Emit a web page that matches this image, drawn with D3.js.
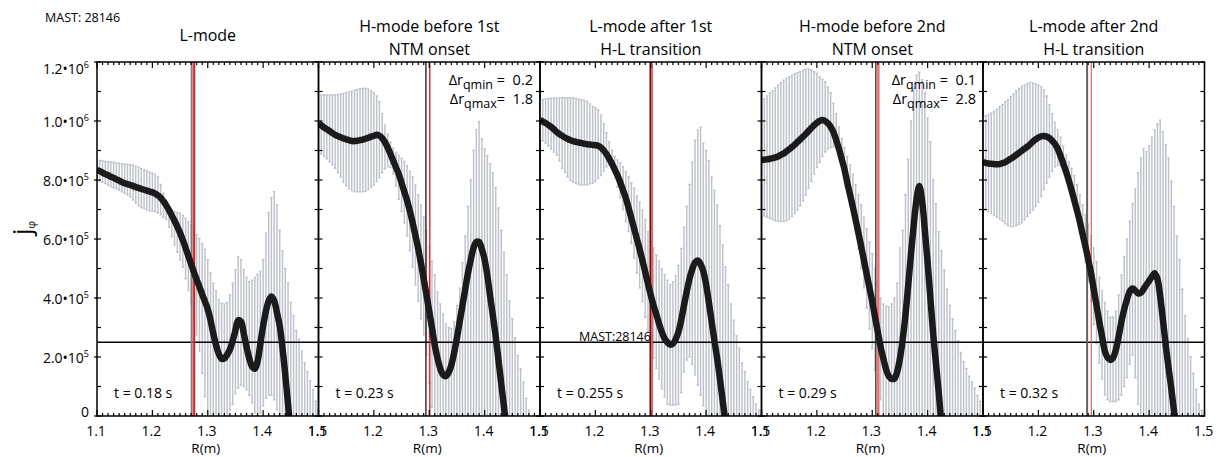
<!DOCTYPE html>
<html>
<head>
<meta charset="utf-8">
<script src="https://cdn.jsdelivr.net/npm/d3@7"></script>
<style>
  body { margin: 0; background: #fff; }
  svg { display: block; font-family: "Open Sans", sans-serif; }
</style>
</head>
<body>
<div id="chart"></div>
<script>
// Major radius grid of the reconstruction (m)
const rGrid = [
  1.100,1.105,1.110,1.115,1.120,1.125,1.130,1.135,1.140,1.145,
  1.150,1.155,1.160,1.165,1.170,1.175,1.180,1.185,1.190,1.195,
  1.200,1.205,1.210,1.215,1.220,1.225,1.230,1.235,1.240,1.245,
  1.250,1.255,1.260,1.265,1.270,1.275,1.280,1.285,1.290,1.295,
  1.300,1.305,1.310,1.315,1.320,1.325,1.330,1.335,1.340,1.345,
  1.350,1.355,1.360,1.365,1.370,1.375,1.380,1.385,1.390,1.395,
  1.400,1.405,1.410,1.415,1.420,1.425,1.430,1.435,1.440,1.445,
  1.450,1.455,1.460,1.465,1.470,1.475,1.480,1.485,1.490,1.495,
  1.500];

// j_phi in units of 1e5 (upper / lower error bar ends, mean profile); 0 = at or below axis
const p1Hi = [
  8.68,8.66,8.65,8.63,8.62,8.61,8.60,8.58,8.57,8.55,
  8.54,8.53,8.52,8.50,8.47,8.43,8.39,8.35,8.31,8.27,
  8.23,8.19,8.10,7.85,7.55,7.28,7.08,6.98,6.93,6.90,
  6.87,6.80,6.70,6.58,6.48,6.35,6.15,6.02,5.85,5.65,
  5.30,4.85,4.50,4.25,3.95,3.82,3.80,3.85,4.10,4.50,
  4.95,5.40,5.30,4.95,4.70,4.55,4.60,4.70,4.80,4.90,
  5.30,6.20,6.90,7.40,7.60,7.15,6.30,5.60,5.00,4.50,
  3.85,3.40,2.90,2.60,2.20,1.80,1.50,1.20,0.90,0.50,
  0.25];
const p1Lo = [
  8.00,7.96,7.92,7.88,7.83,7.78,7.74,7.70,7.66,7.60,
  7.55,7.50,7.42,7.32,7.22,7.13,7.07,7.03,6.99,6.96,
  6.94,6.92,6.88,6.82,6.74,6.66,6.40,6.08,5.80,5.55,
  5.30,5.05,4.65,4.25,3.80,3.35,2.75,2.20,1.45,0.65,
  0.10,0,0,0,0,0,0,0,0.20,0.40,
  0.75,0.95,1.05,1.00,0.90,0.70,0.45,0.10,0,0.10,
  0.35,0.60,0.70,0.70,0.55,0.20,0,0,0,0,
  0,0,0,0,0,0,0,0,0,0,
  0];
const p1Mean = [
  8.34,8.30,8.25,8.20,8.16,8.11,8.07,8.02,7.98,7.93,
  7.89,7.86,7.83,7.80,7.76,7.73,7.70,7.67,7.64,7.61,
  7.58,7.54,7.48,7.40,7.28,7.14,6.98,6.80,6.62,6.42,
  6.20,5.96,5.70,5.42,5.15,4.88,4.62,4.38,4.12,3.88,
  3.62,3.25,2.80,2.40,2.10,1.94,1.95,2.08,2.25,2.55,
  2.90,3.25,3.20,2.80,2.35,1.95,1.68,1.60,1.85,2.45,
  3.05,3.55,3.90,4.05,3.90,3.50,3.05,2.30,1.40,0.40,
  -0.60,null,null,null,null,null,null,null,null,null,
  null];

const p2Hi = [
  10.88,10.88,10.88,10.88,10.88,10.88,10.89,10.90,10.92,10.93,
  10.95,10.98,11.01,11.04,11.07,11.09,11.10,11.11,11.08,11.02,
  10.95,10.85,10.65,10.25,9.86,9.55,9.28,9.08,8.93,8.83,
  8.73,8.63,8.48,8.30,8.10,7.82,7.49,7.15,6.75,6.30,
  5.75,5.25,4.78,4.20,3.80,3.45,3.12,3.00,2.97,3.20,
  3.75,4.33,5.20,6.10,7.10,8.00,9.00,9.70,9.98,9.40,
  9.05,8.82,8.55,8.25,7.75,7.05,6.30,5.55,4.78,3.90,
  3.30,2.65,2.05,1.60,1.15,0.60,0.20,0,0,0,
  0];
const p2Lo = [
  8.96,8.88,8.80,8.72,8.62,8.52,8.40,8.25,8.10,7.92,
  7.80,7.70,7.64,7.60,7.60,7.60,7.60,7.62,7.68,7.75,
  7.83,7.95,8.08,8.25,8.38,8.45,8.42,8.20,7.80,7.35,
  6.93,6.55,6.10,5.60,5.05,4.45,3.90,3.30,2.75,2.07,
  1.10,0.30,0,0,0,0,0,0,0,0,
  0,0,0,0,0,0,0,0,0,0,
  0,0,0,0,0,0,0,0,0,0,
  0,0,0,0,0,0,0,0,0,0,
  0];
const p2Mean = [
  9.92,9.85,9.78,9.72,9.66,9.59,9.53,9.49,9.45,9.41,
  9.38,9.35,9.32,9.32,9.33,9.35,9.37,9.40,9.43,9.47,
  9.50,9.53,9.50,9.42,9.28,9.10,8.88,8.65,8.42,8.20,
  7.90,7.60,7.30,6.95,6.55,6.12,5.68,5.18,4.65,4.10,
  3.55,2.98,2.40,1.95,1.60,1.40,1.35,1.48,1.73,2.15,
  2.65,3.20,3.75,4.30,4.85,5.30,5.70,5.90,5.90,5.65,
  5.30,4.75,4.05,3.40,2.70,1.90,1.10,0.30,-0.50,null,
  null,null,null,null,null,null,null,null,null,null,
  null];

const p3Hi = [
  10.71,10.73,10.75,10.76,10.77,10.77,10.78,10.78,10.79,10.79,
  10.79,10.79,10.78,10.76,10.74,10.72,10.70,10.66,10.58,10.50,
  10.45,10.38,10.20,9.90,9.60,9.30,9.00,8.80,8.68,8.58,
  8.45,8.28,8.10,7.90,7.72,7.45,7.25,6.98,6.65,6.25,
  5.91,5.70,5.46,5.25,4.98,4.80,4.60,4.46,4.55,4.75,
  5.10,5.68,6.40,7.10,7.85,8.60,9.35,9.70,9.78,9.25,
  9.00,8.65,8.10,7.65,7.15,6.45,5.80,5.05,4.45,3.80,
  3.25,2.72,2.30,1.80,1.50,1.15,0.90,0.65,0.40,0.20,
  0.05];
const p3Lo = [
  9.41,9.33,9.25,9.15,9.05,8.95,8.85,8.65,8.40,8.25,
  8.10,7.98,7.92,7.88,7.85,7.83,7.83,7.84,7.86,7.89,
  7.95,8.05,8.15,8.30,8.45,8.51,8.40,8.22,7.75,7.40,
  7.00,6.59,6.25,5.85,5.35,4.85,4.35,3.88,3.35,2.85,
  2.40,1.95,1.62,1.25,0.92,0.65,0.40,0.37,0.37,0.37,
  0.40,0.80,1.50,1.90,2.00,1.75,1.40,1.05,0.70,0.35,
  0.05,0,0,0,0,0,0,0,0,0,
  0,0,0,0,0,0,0,0,0,0,
  0];
const p3Mean = [
  10.03,9.98,9.93,9.87,9.80,9.72,9.63,9.56,9.50,9.44,
  9.39,9.35,9.32,9.29,9.27,9.25,9.23,9.21,9.20,9.19,
  9.18,9.16,9.10,9.00,8.88,8.72,8.55,8.35,8.15,7.92,
  7.65,7.38,7.05,6.70,6.35,6.00,5.65,5.27,4.88,4.48,
  4.10,3.75,3.45,3.13,2.85,2.63,2.50,2.42,2.45,2.60,
  2.85,3.25,3.75,4.22,4.65,4.98,5.20,5.27,5.15,4.90,
  4.45,3.85,3.20,2.55,1.95,1.25,0.50,-0.25,null,null,
  null,null,null,null,null,null,null,null,null,null,
  null];

const p4Hi = [
  10.66,10.75,10.85,10.95,11.03,11.12,11.22,11.30,11.38,11.45,
  11.50,11.55,11.60,11.64,11.67,11.72,11.75,11.76,11.72,11.67,
  11.62,11.50,11.42,11.33,11.15,10.95,10.60,10.25,9.80,9.40,
  9.10,8.80,8.51,8.20,7.85,7.50,7.15,6.75,6.35,5.90,
  5.50,5.00,4.45,4.00,3.80,3.72,3.70,3.80,4.00,4.50,
  5.70,6.30,7.50,8.70,10.00,11.10,11.55,11.65,11.40,10.95,
  10.10,9.30,8.00,7.20,6.25,5.60,4.95,4.30,3.75,3.30,
  2.90,2.55,2.15,1.84,1.60,1.35,1.15,0.95,0.70,0.50,
  0.26];
const p4Lo = [
  6.81,6.78,6.74,6.70,6.66,6.62,6.60,6.59,6.59,6.62,
  6.68,6.76,6.86,6.98,7.12,7.30,7.49,7.72,7.95,8.20,
  8.42,8.60,8.80,8.95,9.05,9.10,9.13,9.10,9.00,8.80,
  8.40,7.95,7.45,6.90,6.30,5.65,5.00,4.35,3.65,2.95,
  2.29,1.55,1.05,0.55,0.15,0,0,0,0,0,
  0,0,0,0,0,0,0,0,0,0,
  0,0,0,0,0,0,0,0,0,0,
  0,0,0,0,0,0,0,0,0,0,
  0];
const p4Mean = [
  8.68,8.69,8.70,8.72,8.74,8.77,8.80,8.85,8.90,8.97,
  9.04,9.12,9.20,9.29,9.38,9.47,9.56,9.66,9.76,9.86,
  9.94,10.00,10.03,10.00,9.92,9.80,9.62,9.35,9.05,8.70,
  8.35,7.90,7.50,7.08,6.65,6.20,5.75,5.28,4.80,4.34,
  3.88,3.36,2.85,2.35,1.95,1.58,1.35,1.26,1.27,1.50,
  1.95,2.60,3.42,4.45,5.50,6.50,7.35,7.80,7.30,6.30,
  5.20,3.99,2.80,1.80,0.80,-0.30,null,null,null,null,
  null,null,null,null,null,null,null,null,null,null,
  null];

const p5Hi = [
  10.15,10.18,10.22,10.27,10.32,10.40,10.48,10.56,10.65,10.73,
  10.82,10.92,11.02,11.10,11.17,11.22,11.27,11.31,11.30,11.26,
  11.21,11.16,11.05,10.85,10.55,10.25,9.95,9.70,9.45,9.15,
  8.85,8.62,8.40,8.15,7.85,7.49,7.15,6.82,6.50,6.10,
  5.70,5.23,4.70,4.25,3.85,3.55,3.35,3.35,3.55,4.10,
  4.78,5.40,6.00,6.60,7.20,7.70,8.25,8.75,9.07,8.96,
  9.15,9.45,9.70,9.90,10.03,9.64,9.20,8.75,7.95,7.10,
  6.10,5.30,4.30,3.40,2.63,2.00,1.45,0.90,0.40,0.20,
  0.05];
const p5Lo = [
  7.04,6.98,6.92,6.86,6.80,6.74,6.68,6.60,6.52,6.46,
  6.42,6.42,6.45,6.50,6.55,6.65,6.76,6.88,6.98,7.10,
  7.25,7.45,7.68,7.90,8.10,8.30,8.45,8.51,8.48,8.42,
  8.30,8.05,7.72,7.30,6.80,6.30,5.75,5.20,4.55,3.90,
  3.10,2.45,1.80,1.25,0.71,0.55,0.49,0.49,0.49,0.55,
  0.71,1.00,1.30,1.75,2.07,1.30,0.40,0,0,0,
  0,0,0,0,0,0,0,0,0,0,
  0,0,0,0,0,0,0,0,0,0,
  0];
const p5Mean = [
  8.60,8.58,8.56,8.55,8.54,8.53,8.54,8.57,8.60,8.66,
  8.72,8.78,8.85,8.92,8.99,9.06,9.13,9.21,9.30,9.38,
  9.44,9.48,9.49,9.47,9.42,9.33,9.22,9.05,8.82,8.55,
  8.28,7.98,7.65,7.30,6.95,6.58,6.15,5.75,5.30,4.85,
  4.30,3.75,3.20,2.70,2.20,1.98,1.90,1.98,2.25,2.70,
  3.20,3.62,3.95,4.22,4.32,4.25,4.16,4.18,4.30,4.45,
  4.58,4.72,4.84,4.65,4.05,3.25,2.40,1.65,0.94,0.15,
  -0.60,null,null,null,null,null,null,null,null,null,
  null];

const panelTitles = [
  ["L-mode"],
  ["H-mode before 1st", "NTM onset"],
  ["L-mode after 1st", "H-L transition"],
  ["H-mode before 2nd", "NTM onset"],
  ["L-mode after 2nd", "H-L transition"]
];
const panelTimes = ["t = 0.18 s", "t = 0.23 s", "t = 0.255 s", "t = 0.29 s", "t = 0.32 s"];
// two vertical reference radii per panel (dark line, red line)
const darkLineR = [1.271, 1.294, 1.2995, 1.3065, 1.288];
const redLineR = [1.2755, 1.301, 1.3025, 1.311, 1.2955];
// delta r annotations: panel index, qmin, qmax
const drPanel = [1, 3];
const drQmin = ["0.2", "0.1"];
const drQmax = ["1.8", "2.8"];
const refLevel = 2.5; // 2.5e5 horizontal line
const shot = "MAST: 28146";

const yTickVals = [0, 2, 4, 6, 8, 10, 12];
const yTickMant = ["0", "2.0", "4.0", "6.0", "8.0", "1.0", "1.2"];
const yTickExp = [null, "5", "5", "5", "5", "6", "6"];
const xTickVals = [1.1, 1.2, 1.3, 1.4, 1.5];

const panels = [
  {hi: p1Hi, lo: p1Lo, mean: p1Mean},
  {hi: p2Hi, lo: p2Lo, mean: p2Mean},
  {hi: p3Hi, lo: p3Lo, mean: p3Mean},
  {hi: p4Hi, lo: p4Lo, mean: p4Mean},
  {hi: p5Hi, lo: p5Lo, mean: p5Mean}
];

// layout
const W = 1220, H = 457;
const plotLeft = 97, plotTop = 62, plotBottom = 416;
const panelW = 221.5;
const darkStyle = [
  {c: "#7d7d7d", w: 2}, {c: "#151515", w: 1.3}, {c: "#6a1010", w: 2},
  {c: "#1a1a1a", w: 1.2}, {c: "#5d6660", w: 2}];
const redStyle = [
  {c: "#e3191c", w: 2}, {c: "#d7191c", w: 1.3}, {c: "#ee5555", w: 1.6},
  {c: "#f07070", w: 2.5}, {c: "#e84040", w: 1}];

const svg = d3.select("#chart").append("svg")
    .attr("width", W)
    .attr("height", H);

const y = d3.scaleLinear().domain([0, 12]).range([plotBottom, plotTop]);
const defs = svg.append("defs");

panels.forEach((p, i) => {
  const x0 = plotLeft + i * panelW;
  const x = d3.scaleLinear().domain([1.1, 1.5]).range([x0, x0 + panelW]);
  const g = svg.append("g").attr("class", "panel");

  defs.append("clipPath").attr("id", "clip" + i)
    .append("rect")
      .attr("x", x0).attr("y", plotTop)
      .attr("width", panelW).attr("height", plotBottom - plotTop);

  const body = g.append("g").attr("clip-path", `url(#clip${i})`);

  // error bars
  const cap = 1.2;
  body.append("g")
      .attr("stroke", "#bdc1ca")
      .attr("stroke-width", 1.45)
      .attr("fill", "none")
    .selectAll("path")
    .data(rGrid.map((r, k) => ({r, hi: p.hi[k], lo: p.lo[k]})).filter(d => d.hi > 0))
    .join("path")
      .attr("d", d => {
        const xx = x(d.r), yh = y(d.hi), yl = y(Math.max(d.lo, 0));
        return `M${xx - cap},${yh}H${xx + cap}M${xx},${yh}V${yl}M${xx - cap},${yl}H${xx + cap}`;
      });

  // reference level
  body.append("line")
      .attr("x1", x0).attr("x2", x0 + panelW)
      .attr("y1", y(refLevel)).attr("y2", y(refLevel))
      .attr("stroke", "#000").attr("stroke-width", 1.3);

  // vertical markers
  body.append("line")
      .attr("x1", x(darkLineR[i])).attr("x2", x(darkLineR[i]))
      .attr("y1", plotTop).attr("y2", plotBottom)
      .attr("stroke", darkStyle[i].c).attr("stroke-width", darkStyle[i].w);
  body.append("line")
      .attr("x1", x(redLineR[i])).attr("x2", x(redLineR[i]))
      .attr("y1", plotTop).attr("y2", plotBottom)
      .attr("stroke", redStyle[i].c).attr("stroke-width", redStyle[i].w);

  // mean profile
  const line = d3.line()
      .defined(d => d !== null)
      .x((d, k) => x(rGrid[k]))
      .y(d => y(d))
      .curve(d3.curveCatmullRom.alpha(0.5));
  body.append("path")
      .datum(p.mean)
      .attr("fill", "none")
      .attr("stroke", "#1b1b1b")
      .attr("stroke-width", 6.5)
      .attr("stroke-linejoin", "round")
      .attr("d", line);

  // frame
  g.append("rect")
      .attr("x", x0).attr("y", plotTop)
      .attr("width", panelW).attr("height", plotBottom - plotTop)
      .attr("fill", "none").attr("stroke", "#000").attr("stroke-width", 1.5);

  // ticks
  const ticks = g.append("g").attr("stroke", "#000").attr("stroke-width", 1.2);
  d3.range(0, 13).forEach(v => {
    const yy = y(v);
    const major = v % 2 === 0;
    ticks.append("line").attr("x1", i === 0 && major ? x0 - 3 : x0).attr("x2", x0 + 4)
        .attr("y1", yy).attr("y2", yy);
    ticks.append("line").attr("x1", x0 + panelW - 4).attr("x2", x0 + panelW)
        .attr("y1", yy).attr("y2", yy);
  });
  x.ticks(40).forEach(v => {
    const xx = x(v);
    const major = Math.abs(v * 10 - Math.round(v * 10)) < 1e-6;
    const len = major ? 6 : 3;
    ticks.append("line").attr("x1", xx).attr("x2", xx).attr("y1", plotTop).attr("y2", plotTop + len);
    ticks.append("line").attr("x1", xx).attr("x2", xx).attr("y1", plotBottom).attr("y2", plotBottom - len);
  });

  // x tick labels (neighbouring panels' 1.5 and 1.1 overprint, as in the original)
  g.append("g").selectAll("text").data(xTickVals).join("text")
      .attr("x", d => x(d) - 1)
      .attr("y", 435.5)
      .attr("text-anchor", "middle")
      .style("font-size", "14px")
      .text(d => d.toFixed(1));

  g.append("text")
      .attr("x", x0 + panelW / 2 - 2)
      .attr("y", 453)
      .attr("text-anchor", "middle")
      .style("font-size", "13.5px")
      .text("R(m)");

  // title
  const title = panelTitles[i];
  g.append("g").selectAll("text").data(title).join("text")
      .attr("x", x0 + panelW / 2)
      .attr("y", (d, k) => title.length === 1 ? 40.5 : 32 + k * 23)
      .attr("text-anchor", "middle")
      .style("font-size", "16px")
      .text(d => d);

  // time
  g.append("text")
      .attr("x", x0 + 17)
      .attr("y", 398)
      .style("font-size", "14px")
      .text(panelTimes[i]);
});

// delta r annotations
drPanel.forEach((pi, k) => {
  const xr = plotLeft + (pi + 1) * panelW - 7;
  [["qmin", "\u00a0=\u00a0\u00a0" + drQmin[k], 85], ["qmax", "=\u00a0\u00a0" + drQmax[k], 104]].forEach(([sub, rest, yy]) => {
    const t = svg.append("text")
        .attr("x", xr).attr("y", yy)
        .attr("text-anchor", "end")
        .style("font-size", "14.5px");
    t.append("tspan").text("\u0394r");
    t.append("tspan").attr("dy", 3.5).style("font-size", "12.5px").text(sub);
    t.append("tspan").attr("dy", -3.5).text(rest);
  });
});

// y tick labels
yTickVals.forEach((v, k) => {
  let yy = y(v) + 5.5;
  if (k === 0) yy = y(v) + 0.5;
  if (k === yTickVals.length - 1) yy = y(v) + 12;
  const t = svg.append("text")
      .attr("x", 89).attr("y", yy)
      .attr("text-anchor", "end")
      .style("font-size", "14px");
  t.append("tspan").text(yTickExp[k] ? yTickMant[k] + "\u202210" : yTickMant[k]);
  if (yTickExp[k]) {
    t.append("tspan").attr("dy", -6).style("font-size", "9px").text(yTickExp[k]);
  }
});

// y axis label
const yl = svg.append("text")
    .attr("transform", "translate(31,235) rotate(-90)")
    .style("font-size", "25px")
    .text("j");
yl.append("tspan").attr("dy", 4).style("font-size", "11px").text("\u03c6");

// shot labels
svg.append("text")
    .attr("x", 45).attr("y", 21.5)
    .style("font-size", "12.5px")
    .text(shot);
svg.append("text")
    .attr("x", 579).attr("y", y(refLevel) - 1.5)
    .style("font-size", "12.5px")
    .text(shot.replace(" ", ""));
</script>
</body>
</html>
